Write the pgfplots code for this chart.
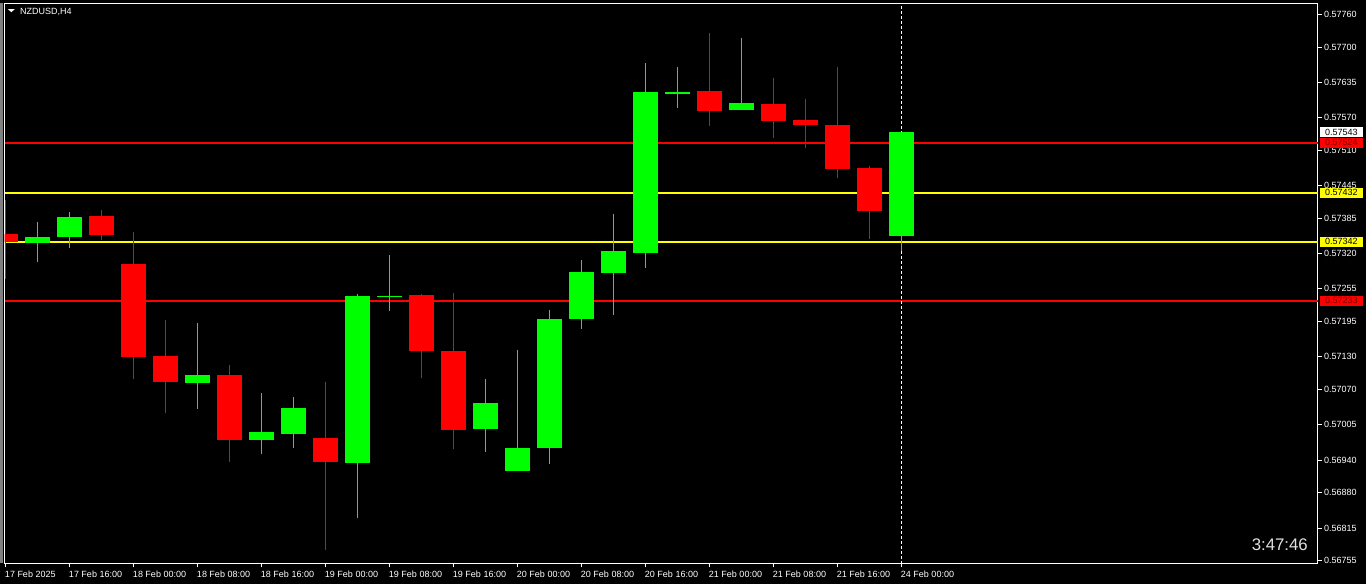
\documentclass[border=0pt]{standalone}
\usepackage{pgfplots}
\usepackage{pgfplotstable}
\pgfplotsset{compat=1.18}
\usepackage{fontspec}
\setmainfont{Liberation Sans}
\definecolor{cgreen}{RGB}{0,255,0}
\definecolor{cred}{RGB}{255,0,0}
\definecolor{cyellow}{RGB}{255,255,0}
\definecolor{dred}{RGB}{120,0,0}
\definecolor{clockgray}{RGB}{225,225,225}

\pgfplotstableread{
i o h l c
0 0.573560 0.574186 0.572738 0.573413
3 0.573891 0.574002 0.573450 0.573547
4 0.573008 0.573597 0.570898 0.571302
5 0.571315 0.571978 0.570272 0.570842
7 0.570966 0.571150 0.569370 0.569775
10 0.569807 0.570837 0.567751 0.569370
13 0.572438 0.572456 0.570916 0.571413
14 0.571407 0.572475 0.569604 0.569959
22 0.576191 0.577259 0.575553 0.575829
24 0.575952 0.576431 0.575332 0.575645
25 0.575658 0.576044 0.575148 0.575571
26 0.575566 0.576633 0.574596 0.574762
27 0.574775 0.574811 0.573474 0.573989
}\redcandles

\pgfplotstableread{
i o h l c
1 0.573400 0.573781 0.573050 0.573505
2 0.573505 0.573965 0.573308 0.573873
6 0.570824 0.571923 0.570346 0.570966
8 0.569775 0.570635 0.569518 0.569917
9 0.569886 0.570561 0.569628 0.570359
11 0.569352 0.572456 0.568335 0.572419
12 0.572406 0.573174 0.572149 0.572426
15 0.569978 0.570892 0.569554 0.570451
16 0.569205 0.571426 0.569205 0.569623
17 0.569628 0.572162 0.569334 0.571996
18 0.572002 0.573082 0.571818 0.572861
19 0.572848 0.573928 0.572075 0.573247
20 0.573216 0.576707 0.572940 0.576173
21 0.576142 0.576633 0.575884 0.576173
23 0.575847 0.577167 0.575847 0.575971
28 0.573529 0.575430 0.573247 0.575430
}\greencandles

\begin{document}
\begin{tikzpicture}
\fill[black] (0pt,0pt) rectangle (1366pt,584pt);
\fill[gray] (0pt,20.7pt) rectangle (3pt,580.7pt);
\begin{axis}[
  at={(4.7pt,20.7pt)}, anchor=south west,
  width=1313.3pt, height=560pt, scale only axis,
  xmin=-0.025, xmax=41.016, ymin=0.567501, ymax=0.577805,
  axis line style={white, line width=1pt},
  xtick={0,2,...,28},
  xticklabels={17 Feb 2025,17 Feb 16:00,18 Feb 00:00,18 Feb 08:00,18 Feb 16:00,19 Feb 00:00,19 Feb 08:00,19 Feb 16:00,20 Feb 00:00,20 Feb 08:00,20 Feb 16:00,21 Feb 00:00,21 Feb 08:00,21 Feb 16:00,24 Feb 00:00},
  ytick={0.57760,0.57700,0.57635,0.57570,0.57510,0.57445,0.57385,0.57320,0.57255,0.57195,0.57130,0.57070,0.57005,0.56940,0.56880,0.56815,0.56755},
  yticklabels={0.57760,0.57700,0.57635,0.57570,0.57510,0.57445,0.57385,0.57320,0.57255,0.57195,0.57130,0.57070,0.57005,0.56940,0.56880,0.56815,0.56755},
  scaled y ticks=false,
  xtick pos=bottom, ytick pos=right, yticklabel pos=right,
  tick align=outside, major tick length=4pt,
  tick style={white, line width=1pt},
  ticklabel style={font=\fontsize{9}{10}\selectfont, text=white},
  xticklabel style={anchor=north west, inner sep=0pt, xshift=-0.7pt, yshift=-3.5pt},
  yticklabel style={anchor=west, inner sep=0pt, xshift=2pt},
  clip=true,
]
% support / resistance lines
\addplot[cred, line width=2pt] coordinates {(0,0.57524) (41.03,0.57524)};
\addplot[cred, line width=2pt] coordinates {(0,0.57233) (41.03,0.57233)};
\addplot[cyellow, line width=2pt] coordinates {(0,0.57432) (41.03,0.57432)};
\addplot[cyellow, line width=2pt] coordinates {(0,0.57342) (41.03,0.57342)};
% current bar marker
\addplot[white, line width=1pt, dash pattern=on 3pt off 2pt] coordinates {(28,0.5674) (28,0.5779)};
% wicks
\addplot[draw=none, mark=none, error bars/.cd, y dir=plus, y explicit, error mark=none,
  error bar style={draw=cred, solid, line width=1pt}]
  table[x=i, y=l, y error plus expr=\thisrow{h}-\thisrow{l}] {\redcandles};
\addplot[draw=none, mark=none, error bars/.cd, y dir=plus, y explicit, error mark=none,
  error bar style={draw=cgreen, solid, line width=1pt}]
  table[x=i, y=l, y error plus expr=\thisrow{h}-\thisrow{l}] {\greencandles};
% bodies
\addplot[draw=none, mark=none, error bars/.cd, y dir=plus, y explicit, error mark=none,
  error bar style={draw=cred, solid, line width=25pt, line cap=butt}]
  table[x=i, y=c, y error plus expr=\thisrow{o}-\thisrow{c}] {\redcandles};
\addplot[draw=none, mark=none, error bars/.cd, y dir=plus, y explicit, error mark=none,
  error bar style={draw=cgreen, solid, line width=25pt, line cap=butt}]
  table[x=i, y=o, y error plus expr=\thisrow{c}-\thisrow{o}] {\greencandles};
\coordinate (pA) at (axis cs:41.016,0.57543);
\coordinate (pB) at (axis cs:41.016,0.57524);
\coordinate (pC) at (axis cs:41.016,0.57432);
\coordinate (pD) at (axis cs:41.016,0.57342);
\coordinate (pE) at (axis cs:41.016,0.57233);
\end{axis}
% price boxes on the scale
\fill[white] ([xshift=2pt,yshift=-5pt]pA) rectangle ([xshift=44.7pt,yshift=5pt]pA);
\node[anchor=west,inner sep=0pt,text=black,font=\fontsize{9}{10}\selectfont] at ([xshift=7pt]pA) {0.57543};
\fill[cred] ([xshift=2pt,yshift=-5pt]pB) rectangle ([xshift=44.7pt,yshift=5pt]pB);
\node[anchor=west,inner sep=0pt,text=dred,font=\fontsize{9}{10}\selectfont] at ([xshift=7pt]pB) {0.57524};
\fill[cyellow] ([xshift=2pt,yshift=-5pt]pC) rectangle ([xshift=44.7pt,yshift=5pt]pC);
\node[anchor=west,inner sep=0pt,text=black,font=\fontsize{9}{10}\selectfont] at ([xshift=7pt]pC) {0.57432};
\fill[cyellow] ([xshift=2pt,yshift=-5pt]pD) rectangle ([xshift=44.7pt,yshift=5pt]pD);
\node[anchor=west,inner sep=0pt,text=black,font=\fontsize{9}{10}\selectfont] at ([xshift=7pt]pD) {0.57342};
\fill[cred] ([xshift=2pt,yshift=-5pt]pE) rectangle ([xshift=44.7pt,yshift=5pt]pE);
\node[anchor=west,inner sep=0pt,text=dred,font=\fontsize{9}{10}\selectfont] at ([xshift=7pt]pE) {0.57233};
% title and clock
\fill[white] (8pt,574.8pt) -- (14.7pt,574.8pt) -- (11.35pt,571.8pt) -- cycle;
\node[anchor=west,inner sep=0pt,text=white,font=\fontsize{9}{10}\selectfont] at (20pt,572.5pt) {NZDUSD,H4};
\node[anchor=east,inner sep=0pt,text=clockgray,font=\fontsize{16.8}{19}\selectfont] at (1308pt,39pt) {3:47:46};
\pgfresetboundingbox
\path[use as bounding box] (0pt,0pt) rectangle (1366pt,584pt);
\end{tikzpicture}
\end{document}
